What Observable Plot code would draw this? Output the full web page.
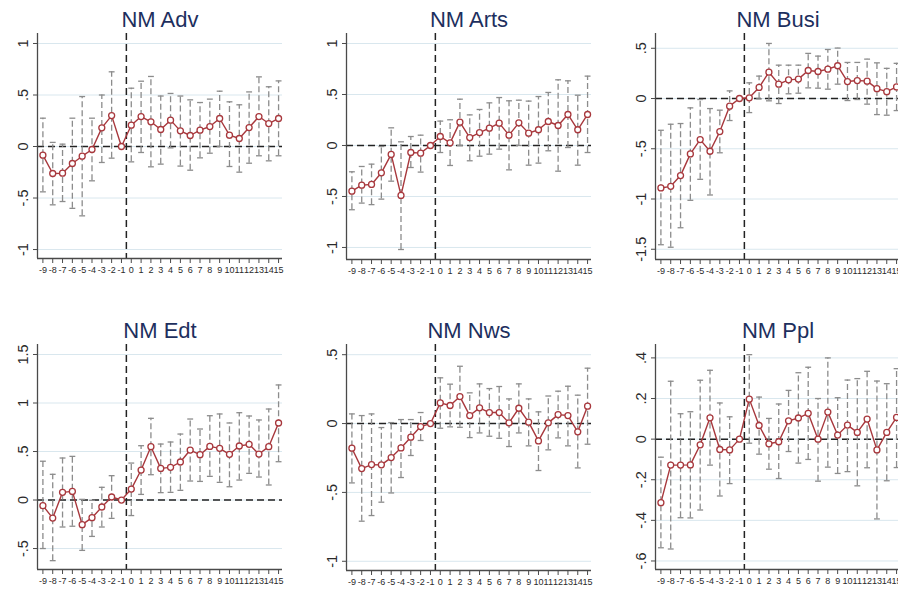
<!DOCTYPE html>
<html><head><meta charset="utf-8">
<script src="https://cdn.jsdelivr.net/npm/d3@7"></script>
<script src="https://cdn.jsdelivr.net/npm/@observablehq/plot@0.6"></script>
<style>
html,body{margin:0;padding:0;background:#fff;}
#wrap{position:relative;width:898px;height:594px;overflow:hidden;background:#fff;}
#wrap > div{position:absolute;width:305px;}
#wrap svg{max-width:none !important;}
</style></head><body><div id="wrap"></div>
<script>
const periods = [-9,-8,-7,-6,-5,-4,-3,-2,-1,0,1,2,3,4,5,6,7,8,9,10,11,12,13,14,15];

const titles = ["NM Adv","NM Arts","NM Busi","NM Edt","NM Nws","NM Ppl"];

const advCoef = [-0.084,-0.262,-0.259,-0.165,-0.094,-0.029,0.181,0.30,0,0.207,0.291,0.24,0.165,0.256,0.152,0.107,0.159,0.194,0.272,0.11,0.078,0.184,0.291,0.223,0.272];
const advLo   = [-0.44,-0.566,-0.534,-0.60,-0.673,-0.333,-0.155,-0.113,null,-0.149,-0.058,-0.197,-0.171,-0.013,-0.19,-0.23,-0.11,-0.065,0.0,-0.194,-0.249,-0.162,-0.09,-0.139,-0.09];
const advHi   = [0.275,0.04,0.023,0.275,0.485,0.275,0.50,0.725,null,0.566,0.634,0.68,0.49,0.515,0.49,0.453,0.427,0.46,0.537,0.434,0.405,0.53,0.676,0.58,0.637];

const artsCoef = [-0.448,-0.389,-0.382,-0.268,-0.088,-0.49,-0.069,-0.075,0,0.088,0.026,0.229,0.078,0.127,0.17,0.219,0.101,0.222,0.121,0.154,0.235,0.196,0.304,0.154,0.304];
const artsLo   = [-0.63,-0.565,-0.58,-0.526,-0.35,-1.02,-0.216,-0.261,null,-0.069,-0.196,0.0,-0.15,-0.105,-0.085,-0.036,-0.239,0.0,-0.193,-0.173,-0.052,-0.252,-0.02,-0.193,-0.069];
const artsHi   = [-0.258,-0.206,-0.183,-0.01,0.173,0.036,0.088,0.101,null,0.239,0.252,0.454,0.30,0.353,0.418,0.47,0.438,0.444,0.435,0.48,0.52,0.644,0.634,0.493,0.68];

const busiCoef = [-0.89,-0.874,-0.767,-0.551,-0.409,-0.525,-0.329,-0.076,0,0.007,0.11,0.262,0.143,0.186,0.193,0.279,0.269,0.292,0.326,0.169,0.179,0.173,0.098,0.068,0.115];
const busiLo   = [-1.455,-1.48,-1.286,-1.013,-0.804,-0.96,-0.54,-0.219,null,-0.14,-0.003,-0.023,-0.05,0.047,0.053,0.106,0.103,0.093,0.143,-0.02,-0.01,-0.056,-0.16,-0.166,-0.12];
const busiHi   = [-0.316,-0.256,-0.249,-0.093,-0.01,-0.10,-0.116,0.076,null,0.156,0.223,0.548,0.332,0.332,0.332,0.449,0.422,0.488,0.502,0.359,0.359,0.392,0.355,0.30,0.35];

const edtCoef = [-0.058,-0.186,0.079,0.089,-0.254,-0.182,-0.072,0.031,0,0.113,0.309,0.55,0.326,0.337,0.392,0.515,0.467,0.553,0.533,0.471,0.557,0.574,0.474,0.55,0.794];
const edtLo   = [-0.50,-0.625,-0.278,-0.27,-0.519,-0.375,-0.278,-0.189,null,-0.16,0.058,0.261,0.076,0.079,0.10,0.196,0.192,0.244,0.182,0.137,0.206,0.275,0.237,0.155,0.395];
const edtHi   = [0.40,0.265,0.433,0.45,0.007,-0.003,0.131,0.251,null,0.381,0.56,0.842,0.577,0.598,0.68,0.835,0.732,0.869,0.887,0.794,0.90,0.866,0.825,0.938,1.186];

const nwsCoef = [-0.179,-0.327,-0.298,-0.30,-0.247,-0.177,-0.099,-0.022,0,0.15,0.131,0.196,0.058,0.114,0.08,0.08,0.005,0.111,0.01,-0.126,0.005,0.065,0.058,-0.06,0.126];
const nwsLo   = [-0.431,-0.709,-0.668,-0.571,-0.504,-0.392,-0.232,-0.123,null,-0.034,-0.024,-0.027,-0.102,-0.068,-0.092,-0.107,-0.167,-0.068,-0.162,-0.341,-0.191,-0.104,-0.162,-0.322,-0.15];
const nwsHi   = [0.07,0.058,0.07,-0.029,0.007,0.029,0.029,0.08,null,0.332,0.286,0.416,0.223,0.288,0.254,0.269,0.179,0.288,0.179,0.085,0.20,0.235,0.271,0.206,0.402];

const pplCoef = [-0.313,-0.128,-0.128,-0.127,-0.028,0.105,-0.051,-0.053,0,0.197,0.067,-0.023,-0.013,0.09,0.104,0.127,0.0,0.133,0.02,0.069,0.033,0.099,-0.053,0.033,0.107];
const pplLo   = [-0.535,-0.541,-0.387,-0.388,-0.349,-0.128,-0.28,-0.219,null,-0.02,-0.074,-0.148,-0.194,-0.061,-0.118,-0.10,-0.207,-0.138,-0.169,-0.16,-0.23,-0.141,-0.393,-0.205,-0.14];
const pplHi   = [-0.089,0.285,0.125,0.135,0.29,0.339,0.178,0.11,null,0.416,0.207,0.102,0.173,0.24,0.327,0.354,0.20,0.40,0.204,0.291,0.298,0.334,0.286,0.273,0.347];

const ticksA = [-1,-0.5,0,0.5,1];           const labelsA = ["-1","-.5","0",".5","1"];
const ticksBusi = [-1.5,-1,-0.5,0,0.5];     const labelsBusi = ["-1.5","-1","-.5","0",".5"];
const ticksEdt = [-0.5,0,0.5,1,1.5];        const labelsEdt = ["-.5","0",".5","1","1.5"];
const ticksNws = [-1,-0.5,0,0.5];           const labelsNws = ["-1","-.5","0",".5"];
const ticksPpl = [-0.6,-0.4,-0.2,0,0.2,0.4]; const labelsPpl = ["-.6","-.4","-.2","0",".2",".4"];

const eventLine = -0.5;

const panels = [
  {title:titles[0], coef:advCoef,  lo:advLo,  hi:advHi,  ticks:ticksA,    labels:labelsA,    yDomain:[-1.087,1.097], left:-7.7, top:-2,  frameH:225},
  {title:titles[1], coef:artsCoef, lo:artsLo, hi:artsHi, ticks:ticksA,    labels:labelsA,    yDomain:[-1.118,1.098], left:301.3, top:-2, frameH:226},
  {title:titles[2], coef:busiCoef, lo:busiLo, hi:busiHi, ticks:ticksBusi, labels:labelsBusi, yDomain:[-1.602,0.647], left:610, top:-2,   frameH:226},
  {title:titles[3], coef:edtCoef,  lo:edtLo,  hi:edtHi,  ticks:ticksEdt,  labels:labelsEdt,  yDomain:[-0.716,1.603], left:-7.7, top:309, frameH:225},
  {title:titles[4], coef:nwsCoef,  lo:nwsLo,  hi:nwsHi,  ticks:ticksNws,  labels:labelsNws,  yDomain:[-1.067,0.574], left:301.3, top:309, frameH:226},
  {title:titles[5], coef:pplCoef,  lo:pplLo,  hi:pplHi,  ticks:ticksPpl,  labels:labelsPpl,  yDomain:[-0.642,0.466], left:610, top:309,  frameH:225}
];

const ML = 45, MR = 15, MT = 35, MB = 30, FW = 245;
const xDom = [-9.55, 15.4];
const RED = "#a8383d", GRAY = "#8c8c8c", AXIS = "#4a4a4a";

function draw(p) {
  const rows = periods.map((x, i) => ({x, b: p.coef[i], lo: p.lo[i], hi: p.hi[i]}));
  const ci = rows.filter(d => d.lo != null && d.hi != null);
  const svg = Plot.plot({
    width: ML + FW + MR,
    height: MT + p.frameH + MB,
    marginLeft: ML, marginRight: MR, marginTop: MT, marginBottom: MB,
    style: {fontFamily: "'Liberation Sans', Arial, sans-serif", color: "#2a2a2a", background: "#fff", overflow: "visible", maxWidth: "none"},
    x: {domain: xDom, label: null},
    y: {domain: p.yDomain, label: null},
    marks: [
      Plot.gridY(p.ticks, {stroke: "#d9e7ee", strokeOpacity: 1, strokeWidth: 1}),
      Plot.ruleY([0], {stroke: "#222", strokeWidth: 1.5, strokeDasharray: "7,4"}),
      Plot.ruleX([eventLine], {stroke: "#222", strokeWidth: 1.5, strokeDasharray: "7,4"}),
      Plot.ruleX(ci, {x: "x", y1: "lo", y2: "hi", stroke: GRAY, strokeWidth: 1.3, strokeDasharray: "6,3"}),
      Plot.link(ci, {x1: d => d.x - 0.3, x2: d => d.x + 0.3, y1: "hi", y2: "hi", stroke: GRAY, strokeWidth: 1.3}),
      Plot.link(ci, {x1: d => d.x - 0.3, x2: d => d.x + 0.3, y1: "lo", y2: "lo", stroke: GRAY, strokeWidth: 1.3}),
      Plot.line(rows, {x: "x", y: "b", stroke: RED, strokeWidth: 1.4}),
      Plot.dot(rows, {x: "x", y: "b", r: 3, stroke: RED, fill: "#fff", strokeWidth: 1.3}),
      Plot.ruleX([xDom[0]], {stroke: AXIS, strokeWidth: 1.3}),
      Plot.ruleY([p.yDomain[0]], {stroke: AXIS, strokeWidth: 1.3}),
      Plot.axisY(p.ticks, {tickFormat: d => p.labels[p.ticks.indexOf(d)], tickRotate: -90, tickSize: 4, tickPadding: 6, fontSize: 14.5, stroke: AXIS}),
      Plot.axisX(periods, {tickFormat: d => String(d), tickSize: 5, tickPadding: 3, fontSize: 9, stroke: AXIS}),
      Plot.text([p.title], {frameAnchor: "top", dy: -6.5, lineAnchor: "bottom", fontSize: 22, fill: "#1d2f5e"})
    ]
  });
  const div = document.createElement("div");
  div.style.left = p.left + "px";
  div.style.top = p.top + "px";
  div.appendChild(svg);
  document.getElementById("wrap").appendChild(div);
}
panels.forEach(draw);
</script>
</body></html>
